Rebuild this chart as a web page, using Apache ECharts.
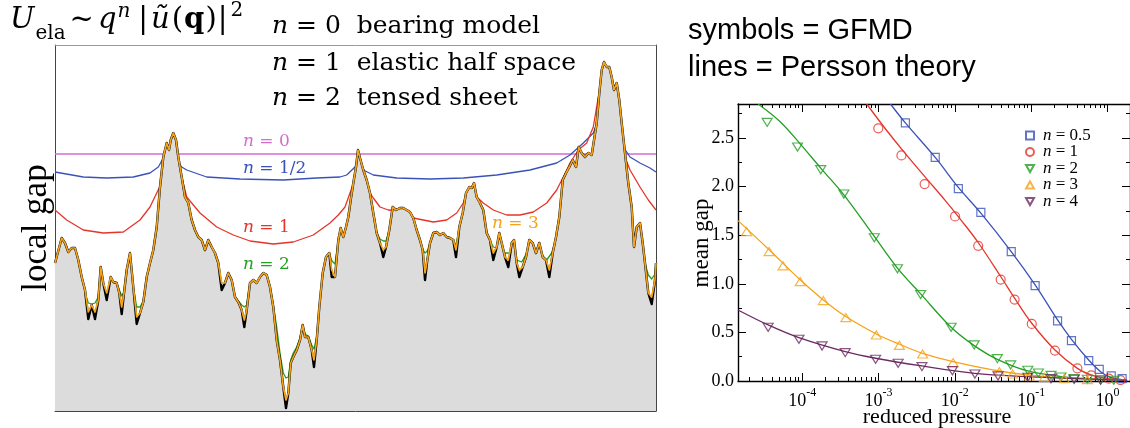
<!DOCTYPE html>
<html>
<head>
<meta charset="utf-8">
<script src="https://cdn.jsdelivr.net/npm/echarts@6/dist/echarts.min.js"></script>
<style>
  html, body { margin: 0; padding: 0; background: #fff; }
  #chart { width: 1130px; height: 428px; }
</style>
</head>
<body>
<div id="chart"></div>
<script>
// ---------- left panel: surface profile and contact interfaces ----------
// lateral position along the cut
const profileX = [
  0,6.7,10,13.3,16.7,20,23.3,26.7,30,33.3,
  36.7,40,43.3,45.7,48.3,51.7,55.7,58.3,61.7,64.3,
  66.7,69,71.7,75,78.3,81.7,85,88.3,91.7,95,
  98.3,101.7,105,108.3,111.7,114,115.7,118.3,121,123.3,
  126.7,130,133.3,136.7,140,143.3,146.7,150,153.3,156.7,
  160,163.3,166.7,170,173.3,176.7,180,183.3,186.7,189.3,
  191.7,195,198.3,201.7,205,208.3,211.7,215,218.3,221.7,
  225,228.3,231,233.3,235.7,238.3,241.7,245,247.7,250,
  253.3,256.7,259,261.7,264.3,267.7,271,274.3,276.7,280,
  283.3,285.7,288.3,291,293.3,295.7,298.3,301,303,305,
  308.3,311.7,315,318.3,321.7,325,328.3,331,334.3,337.7,
  341,345,348.3,351.7,355,358.3,361.7,365,367.7,370,
  372.3,375,378.3,381.7,385,388.3,391.7,395,398.3,401,
  404.3,407.7,411,414.3,416.7,419,421.7,425,428.3,431.7,
  435,438.3,441.7,444.3,446.7,450,453.3,456.7,459,461.7,
  464.3,467.7,471,474.3,477.7,481,484.3,487.7,491,494.3,
  497.7,501,504.3,507.7,511,514.3,517.7,521,523.7,526.7,
  530,533.3,536.7,539,541.7,544.3,546.7,549,551.7,554.3,
  556.7,559,561.7,564.3,566.7,570,573.3,576.7,579,581.7,
  585,587.7,590,593.3,596.7,600,601
];
// rough surface height (black)
const surfaceH = [
  148,173,168,159,163,163,151,134,121,92,
  106,92,111,144,128,111,134,129,128,118,
  97,118,141,158,124,87,98,109,134,148,
  161,184,224,254,268,261,271,278,271,254,
  234,214,208,191,181,174,171,161,171,164,
  158,148,121,128,138,131,114,109,101,84,
  101,128,131,128,134,138,136,124,104,71,
  51,24,3,18,48,54,61,71,86,74,
  74,61,44,71,104,138,154,158,134,134,
  171,183,174,184,194,211,228,244,261,253,
  241,231,218,198,178,168,154,164,181,204,
  201,203,203,201,199,193,181,171,161,131,
  151,168,178,179,176,178,174,173,171,154,
  184,198,218,224,223,228,214,208,201,178,
  171,151,164,178,168,154,144,168,171,148,
  134,144,154,171,168,158,168,154,151,134,
  158,174,194,231,238,244,251,244,264,258,
  254,258,256,271,288,318,341,349,344,344,
  334,321,328,311,288,258,228,204,164,184,
  188,168,148,118,107,131,148
];
// interface for n = 3 (orange), hugging the surface
const n3H = [
  148,173,168,159,163,163,151,134,121,99,
  106,99,111,144,128,118,134,129,128,118,
  104,118,141,158,124,94,98,109,134,148,
  161,184,224,254,268,261,271,278,271,254,
  234,214,208,191,181,174,171,161,171,164,
  158,148,128,128,138,131,114,109,101,91,
  101,128,131,128,134,138,136,124,104,71,
  51,24,11,18,48,54,61,71,86,74,
  74,61,51,71,104,138,154,158,141,134,
  171,183,174,184,194,211,228,244,261,253,
  241,231,218,198,178,168,161,164,181,204,
  201,203,203,201,199,193,181,171,161,138,
  151,168,178,179,176,178,174,173,171,161,
  184,198,218,224,223,228,214,208,201,178,
  171,158,164,178,168,154,151,168,171,148,
  141,144,154,171,168,158,168,154,151,141,
  158,174,194,231,238,244,251,244,264,258,
  254,258,256,271,288,318,341,349,344,344,
  334,321,328,311,288,258,228,204,164,184,
  188,168,148,118,114,131,148
];
// interface for n = 2 (green): only the stretches that bridge valleys, null = break
const n2X = [
  26.7,30,33.3,36.7,40,43.3,45.7, 45.7,
  61.7,64.3,66.7,69,71.7, 71.7,
  78.3,81.7,85,88.3,91.7, 91.7,
  180,183.3,186.7,189.3,191.7,195, 195,
  215,218.3,221.7,225,228.3,231,233.3,235.7,238.3,241.7,245,247.7,250,253.3,256.7,259,261.7,264.3, 264.3,
  274.3,277,280,283.3, 283.3,
  321.7,325,328.3,331,334.3, 334.3,
  365,367.7,370,372.3,375, 375,
  398.3,401,404.3, 404.3,
  435,438.3,441.7,448.3,455,461.7,466.7,471.7,478.3,485,491.7,496.7,501.7, 501.7,
  590,593.3,596.7,600,601
];
const n2H = [
  134,118,108,107,108,114,144, null,
  128,121,115,119,141, null,
  124,104,104,110,134, null,
  114,110,106,104,106,128, null,
  124,106,84,58,38,33,34,51,58,64,73,86,77,75,66,62,74,104, null,
  158,150,147,171, null,
  178,172,170,170,181, null,
  171,162,158,160,168, null,
  171,166,184, null,
  171,164,163,158,158,151,149,158,161,158,151,158,174, null,
  148,136,132,137,148
];
// interface for n = 1 (red)
const n1X = [0,11.7,28.3,48.3,68.3,85,95,101.7,106.7,115,125,131.7,145,161.7,178.3,195,218.3,238.3,258.3,275,
  283.3,290,295,303,311.7,318.3,325,333.3,345,358.3,368.3,378.3,391.7,401.7,408.3,411.7,419,421.7,428.3,438.3,
  451.7,465,478.3,491.7,501.7,508.3,515,523.3,531.7,538.3,543.3,555,568.3,575,585,593.3,601];
const n1H = [201,191,181,178,179,191,204,218,228,240,241,214,198,184,176,170,167,169,176,188,
  196,204,218,240,223,213,204,201,200,193,191,189,191,198,208,218,222,214,208,201,
  196,196,199,208,221,234,248,261,268,284,314,320,258,241,224,211,201];
// interface for n = 1/2 (blue)
const n12X = [0,28.3,51.7,78.3,95,103.3,108.3,115,123.3,126.7,131.7,151.7,185,228.3,261.7,285,291.7,300,303,308.3,
  318.3,341.7,375,408.3,441.7,475,501.7,515,528.3,538.3,543.3,555,568.3,575,585,595,601];
const n12H = [239,234,233,234,238,244,253,262,249,244,241,234,232,231,233,234,236,244,252,241,
  236,233,232,233,236,241,248,256,268,278,291,320,264,254,248,243,239];
// interface for n = 0 (bearing model, magenta)
const n0X = [0, 601];
const n0H = [257, 257];

// ---------- right panel: mean gap vs reduced pressure (log10 of pressure) ----------
const theoryLogP05 = [-2.843,-2.648,-2.257,-1.954,-1.659,-1.261,-0.948,-0.654,-0.472,-0.246,-0.090,0.040,0.257];
const theoryGap05  = [2.85,2.655,2.30,1.992,1.727,1.332,0.989,0.628,0.429,0.216,0.096,0.038,0.010];
const theoryLogP1  = [-3.155,-2.908,-2.648,-2.388,-2.127,-1.911,-1.694,-1.399,-1.217,-0.992,-0.688,-0.394,-0.177,0.040,0.257];
const theoryGap1   = [2.85,2.593,2.339,2.098,1.858,1.648,1.425,1.075,0.852,0.594,0.319,0.130,0.052,0.021,0.007];
const theoryLogP2  = [-4.577,-4.295,-4.035,-3.757,-3.454,-3.055,-2.752,-2.448,-2.049,-1.746,-1.443,-1.044,-0.610,-0.177,0.257];
const theoryGap2   = [2.85,2.672,2.448,2.191,1.916,1.487,1.161,0.896,0.553,0.364,0.223,0.103,0.045,0.021,0.007];
const theoryLogP3  = [-4.841,-4.433,-4.026,-3.723,-3.428,-3.029,-2.726,-2.422,-2.023,-1.417,-0.827,0.257];
const theoryGap3   = [1.65,1.350,1.041,0.834,0.663,0.484,0.378,0.285,0.199,0.103,0.045,0.007];
const theoryLogP4  = [-4.841,-4.446,-4.043,-3.436,-3.038,-2.431,-1.737,-1.044,-0.394,0.257];
const theoryGap4   = [0.731,0.577,0.446,0.302,0.234,0.155,0.079,0.045,0.024,0.007];

const gfmdLogP05 = [-2.648,-2.257,-1.954,-1.659,-1.261,-0.948,-0.654,-0.472,-0.246,-0.108,0.049,0.192];
const gfmdGap05  = [2.655,2.30,1.98,1.734,1.332,0.982,0.618,0.416,0.209,0.120,0.052,0.024];
const gfmdLogP1  = [-3.003,-2.700,-2.396,-1.997,-1.694,-1.399,-1.217,-0.992,-0.688,-0.394,-0.212,0.018,0.170];
const gfmdGap1   = [2.60,2.321,2.026,1.693,1.391,1.044,0.838,0.587,0.313,0.130,0.058,0.024,0.010];
const gfmdLogP2  = [-4.459,-4.061,-3.757,-3.454,-3.055,-2.752,-2.448,-2.049,-1.746,-1.443,-1.269,-1.044,-0.905,-0.740,-0.610,-0.437,-0.264,-0.090,0.083];
const gfmdGap2   = [2.661,2.407,2.174,1.923,1.473,1.154,0.889,0.553,0.371,0.230,0.165,0.110,0.082,0.058,0.041,0.024,0.017,0.010,0.007];
const gfmdLogP3  = [-4.728,-4.433,-4.251,-4.026,-3.723,-3.428,-3.029,-2.726,-2.422,-2.023,-1.417,-1.243,-1.026,-0.827,-0.567,-0.264];
const gfmdGap3   = [1.538,1.332,1.185,1.023,0.828,0.652,0.474,0.367,0.278,0.189,0.096,0.072,0.052,0.038,0.024,0.014];
const gfmdLogP4  = [-4.446,-4.043,-3.740,-3.436,-3.038,-2.743,-2.431,-2.032,-1.737,-1.434,-1.044,-0.740,-0.437,-0.090];
const gfmdGap4   = [0.553,0.429,0.361,0.292,0.223,0.182,0.148,0.106,0.072,0.052,0.038,0.024,0.017,0.010];

const seriesNames = ['n = 0.5', 'n = 1', 'n = 2', 'n = 3', 'n = 4'];
const decadeExponents = [-4, -3, -2, -1, 0];
const gapTicks = [0, 0.5, 1.0, 1.5, 2.0, 2.5];

// ---------- helpers ----------
const pairs = (xs, ys) => xs.map((x, i) => [x, ys[i] === null ? '-' : ys[i]]);
const LOGP_MIN = -4.841, LOGP_MAX = 0.295;
const minorLogTicks = [];
for (let d = -5; d <= 0; d++) {
  for (let k = 2; k <= 9; k++) {
    const v = d + Math.log10(k);
    if (v > LOGP_MIN && v < LOGP_MAX) minorLogTicks.push(v);
  }
}

const COL = {
  magenta: '#d36bd3', blue: '#3a52b8', red: '#e5352a', green: '#239f23',
  orange: '#f5a31a', purple: '#6b2a62'
};
const SERIF = '"DejaVu Serif"';
const TIMES = '"Liberation Serif", "Times New Roman", serif';
const SANS = '"Liberation Sans", Arial, sans-serif';

// piecewise math text laid out left to right
const measureCtx = document.createElement('canvas').getContext('2d');
function mathRun(pieces, x0, baseline) {
  let x = x0;
  const out = [];
  pieces.forEach(p => {
    const st = p.style || 'normal', wt = p.weight || 'normal';
    measureCtx.font = `${st} ${wt} ${p.size}px ${SERIF}`;
    const w = measureCtx.measureText(p.text).width;
    out.push({
      type: 'text', x: x, y: baseline + (p.dy || 0) - 0.346 * p.size, silent: true, z: 100,
      style: { text: p.text, fontFamily: SERIF, fontSize: p.size, fontStyle: st, fontWeight: wt,
               fill: '#000', align: 'left', verticalAlign: 'middle' }
    });
    x += w + (p.gap || 0);
  });
  return out;
}

const formula = mathRun([
  { text: 'U', style: 'italic', size: 29, gap: 1 },
  { text: 'ela', size: 20, dy: 10, gap: 4 },
  { text: '~', size: 29, gap: 4 },
  { text: 'q', style: 'italic', size: 29, gap: 1 },
  { text: 'n', style: 'italic', size: 20, dy: -12, gap: 8 },
  { text: '|', size: 29, gap: 3 },
  { text: 'ũ', style: 'italic', size: 29, gap: 2 },
  { text: '(', size: 29, gap: 1 },
  { text: 'q', weight: 'bold', size: 29, gap: 1 },
  { text: ')', size: 29, gap: 1 },
  { text: '|', size: 29, gap: 3 },
  { text: '2', size: 20, dy: -13 }
], 10, 31);

function richLine(text, x, yMid, size, color, family) {
  return {
    type: 'text', x: x, y: yMid, silent: true, z: 100,
    style: {
      text: text, fontFamily: family, fontSize: size, fill: color,
      align: 'left', verticalAlign: 'middle',
      rich: { i: { fontStyle: 'italic', fontFamily: family, fontSize: size, fill: color } }
    }
  };
}

const graphics = [
  ...formula,
  richLine('{i|n} = 0  bearing model', 272, 26, 25, '#000', SERIF),
  richLine('{i|n} = 1  elastic half space', 272, 63, 25, '#000', SERIF),
  richLine('{i|n} = 2  tensed sheet', 272, 98, 25, '#000', SERIF),
  richLine('{i|n} = 0', 243, 142, 17, COL.magenta, SERIF),
  richLine('{i|n} = 1/2', 243, 169, 17, COL.blue, SERIF),
  richLine('{i|n} = 1', 243, 228, 17, COL.red, SERIF),
  richLine('{i|n} = 2', 243, 265, 17, COL.green, SERIF),
  richLine('{i|n} = 3', 492, 224, 17, COL.orange, SERIF),
  {
    type: 'text', x: 37, y: 228, rotation: Math.PI / 2, silent: true, z: 100,
    style: { text: 'local gap', fontFamily: TIMES, fontSize: 35, fill: '#000', align: 'center', verticalAlign: 'middle' }
  },
  {
    type: 'text', x: 688, y: 31, silent: true, z: 100,
    style: { text: 'symbols = GFMD', fontFamily: SANS, fontSize: 29, fill: '#000', align: 'left', verticalAlign: 'middle' }
  },
  {
    type: 'text', x: 688, y: 68, silent: true, z: 100,
    style: { text: 'lines = Persson theory', fontFamily: SANS, fontSize: 29, fill: '#000', align: 'left', verticalAlign: 'middle' }
  },
  {
    type: 'text', x: 702, y: 243, rotation: Math.PI / 2, silent: true, z: 100,
    style: { text: 'mean gap', fontFamily: TIMES, fontSize: 23, fill: '#000', align: 'center', verticalAlign: 'middle' }
  },
  {
    type: 'text', x: 937, y: 417, silent: true, z: 100,
    style: { text: 'reduced pressure', fontFamily: TIMES, fontSize: 22, fill: '#000', align: 'center', verticalAlign: 'middle' }
  }
];

// ---------- axes ----------
const hidden = { show: false };
function frameAxis(gridIndex, position, color, min, max) {
  return {
    type: 'value', gridIndex, position, min, max,
    axisLine: { show: true, onZero: false, lineStyle: { color, width: 1 } },
    axisTick: hidden, axisLabel: hidden, splitLine: hidden
  };
}
function logAxis(position, values, len, showLine, showLabel) {
  return {
    type: 'value', gridIndex: 1, position, min: LOGP_MIN, max: LOGP_MAX,
    axisLine: { show: showLine, onZero: false, lineStyle: { color: '#000', width: 1.4 } },
    axisTick: { show: true, inside: true, length: len, customValues: values, lineStyle: { color: '#000', width: 1 } },
    axisLabel: showLabel ? {
      show: true, customValues: values, margin: 6,
      formatter: v => '{b|10}{s|' + Math.round(v) + '}',
      rich: {
        b: { fontFamily: TIMES, fontSize: 18, color: '#000', verticalAlign: 'bottom', lineHeight: 23 },
        s: { fontFamily: TIMES, fontSize: 12, color: '#000', verticalAlign: 'top', lineHeight: 23 }
      }
    } : hidden,
    splitLine: hidden
  };
}
function gapAxis(position, showLabel) {
  return {
    type: 'value', gridIndex: 1, position, min: 0, max: 2.85, interval: 0.5,
    axisLine: { show: true, onZero: false, lineStyle: { color: '#000', width: 1.4 } },
    axisTick: { show: true, inside: true, length: 8, lineStyle: { color: '#000', width: 1 } },
    minorTick: { show: true, splitNumber: 2, length: 4, lineStyle: { color: '#000', width: 1 } },
    axisLabel: showLabel ? {
      show: true, margin: 4, showMaxLabel: false,
      fontFamily: TIMES, fontSize: 18, color: '#000',
      formatter: v => (gapTicks.includes(+v.toFixed(2)) ? v.toFixed(1) : '')
    } : hidden,
    splitLine: hidden
  };
}

// ---------- series ----------
function profileLine(name, xs, ys, color, width, z) {
  return {
    name, type: 'line', xAxisIndex: 0, yAxisIndex: 0, data: pairs(xs, ys),
    symbol: 'none', z, silent: true, connectNulls: false,
    lineStyle: { color, width, join: 'round' }
  };
}
function theory(xs, ys, color) {
  return {
    type: 'line', xAxisIndex: 2, yAxisIndex: 2, data: pairs(xs, ys),
    symbol: 'none', smooth: 0.35, silent: true, z: 3,
    lineStyle: { color, width: 1.3 }
  };
}
function gfmd(name, xs, ys, color, symbol, size) {
  return {
    name, type: 'scatter', xAxisIndex: 2, yAxisIndex: 2, data: pairs(xs, ys),
    symbol, symbolSize: size, symbolKeepAspect: true, silent: true, z: 4,
    itemStyle: { color: 'rgba(255,255,255,0)', borderColor: color, borderWidth: 1.2 }
  };
}
const DOWN_TRI = 'path://M0,0L10,0L5,9Z';
const UP_TRI = 'path://M5,0L10,9L0,9Z';

const option = {
  animation: false,
  backgroundColor: '#fff',
  grid: [
    { left: 55, top: 45, width: 601, height: 366 },
    { left: 738, top: 104, width: 395, height: 277 }
  ],
  xAxis: [
    frameAxis(0, 'bottom', '#444', 0, 601),
    frameAxis(0, 'top', '#9a9a9a', 0, 601),
    logAxis('bottom', decadeExponents, 8, true, true),
    logAxis('bottom', minorLogTicks, 4, false, false),
    logAxis('top', decadeExponents, 8, true, false),
    logAxis('top', minorLogTicks, 4, false, false)
  ],
  yAxis: [
    frameAxis(0, 'left', '#444', 0, 366),
    frameAxis(0, 'right', '#444', 0, 366),
    gapAxis('left', true),
    gapAxis('right', false)
  ],
  legend: {
    data: seriesNames,
    orient: 'vertical', left: 1020, top: 122,
    itemWidth: 8, itemHeight: 8, itemGap: -0.5,
    selectedMode: false,
    formatter: name => name.replace(/^n/, '{i|n}'),
    textStyle: {
      fontFamily: TIMES, fontSize: 17, color: '#000', padding: [0, 0, 0, 4],
      rich: { i: { fontStyle: 'italic', fontFamily: TIMES, fontSize: 17, color: '#000' } }
    }
  },
  graphic: { elements: graphics },
  series: [
    // contact interfaces sit behind the filled solid
    profileLine('n0', n0X, n0H, COL.magenta, 1.3, 1),
    profileLine('n12', n12X, n12H, COL.blue, 1.3, 1),
    profileLine('n1', n1X, n1H, COL.red, 1.3, 1),
    profileLine('n2', n2X, n2H, COL.green, 1.3, 1),
    Object.assign(profileLine('surface', profileX, surfaceH, '#000', 2.4, 3), {
      areaStyle: { color: '#dcdcdc', opacity: 1 }
    }),
    profileLine('n3', profileX, n3H, COL.orange, 1.7, 4),

    theory(theoryLogP05, theoryGap05, COL.blue),
    theory(theoryLogP1, theoryGap1, COL.red),
    theory(theoryLogP2, theoryGap2, COL.green),
    theory(theoryLogP3, theoryGap3, COL.orange),
    theory(theoryLogP4, theoryGap4, COL.purple),
    gfmd(seriesNames[0], gfmdLogP05, gfmdGap05, COL.blue, 'rect', 8),
    gfmd(seriesNames[1], gfmdLogP1, gfmdGap1, COL.red, 'circle', 9),
    gfmd(seriesNames[2], gfmdLogP2, gfmdGap2, COL.green, DOWN_TRI, [10, 9]),
    gfmd(seriesNames[3], gfmdLogP3, gfmdGap3, COL.orange, UP_TRI, [10, 9]),
    gfmd(seriesNames[4], gfmdLogP4, gfmdGap4, COL.purple, DOWN_TRI, [10, 9])
  ]
};

const chart = echarts.init(document.getElementById('chart'), null, { renderer: 'canvas' });
chart.setOption(option);
</script>
</body>
</html>
